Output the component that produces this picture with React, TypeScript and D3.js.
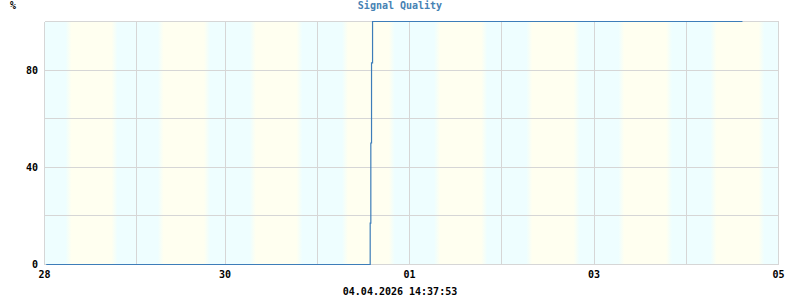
import React from "react";
import * as d3 from "d3";

// ---- data ----
const chartTitle = "Signal Quality";
const yUnit = "%";
const timestampLabel = "04.04.2026 14:37:53";

// local midnights (CET/CEST, DST change on 29.03) as UTC instants
const dayStarts = [
  "2026-03-27T23:00:00Z",
  "2026-03-28T23:00:00Z",
  "2026-03-29T22:00:00Z",
  "2026-03-30T22:00:00Z",
  "2026-03-31T22:00:00Z",
  "2026-04-01T22:00:00Z",
  "2026-04-02T22:00:00Z",
  "2026-04-03T22:00:00Z",
  "2026-04-04T22:00:00Z",
];
const dayLabels = ["28", "29", "30", "31", "01", "02", "03", "04", "05"];
const labeledDays = ["28", "30", "01", "03", "05"];

const sunrise = [
  "2026-03-28T05:15:00Z",
  "2026-03-29T05:14:00Z",
  "2026-03-30T05:12:00Z",
  "2026-03-31T05:12:00Z",
  "2026-04-01T05:10:00Z",
  "2026-04-02T05:09:00Z",
  "2026-04-03T05:07:00Z",
  "2026-04-04T05:06:00Z",
];
const sunset = [
  "2026-03-28T17:14:00Z",
  "2026-03-29T17:17:00Z",
  "2026-03-30T17:20:00Z",
  "2026-03-31T17:24:00Z",
  "2026-04-01T17:26:00Z",
  "2026-04-02T17:29:00Z",
  "2026-04-03T17:32:00Z",
  "2026-04-04T17:35:00Z",
];

const signalTimes = [
  "2026-03-27T23:27:00Z",
  "2026-03-31T11:45:00Z",
  "2026-03-31T11:55:00Z",
  "2026-03-31T12:06:00Z",
  "2026-03-31T12:22:00Z",
  "2026-04-04T12:37:00Z",
];
const signalValues = [0, 17, 50, 83, 100, 100];

const yGridValues = [0, 20, 40, 60, 80, 100];
const yLabelValues = [0, 40, 80];

// ---- layout ----
const W = 800;
const H = 300;
const left = 44.5;
const right = 778.5;
const top = 21.5;
const bottom = 264.5;

const FONT = "'DejaVu Sans Mono', 'Liberation Mono', monospace";
const NIGHT = "#eefeff";
const DAY = "#fffff0";
const GRID = "#d6d6d6";
const LINE = "#3d7db9";

export default function App() {
  const x = d3
    .scaleUtc()
    .domain([new Date(dayStarts[0]), new Date(dayStarts[dayStarts.length - 1])])
    .range([left, right]);
  const y = d3.scaleLinear().domain([0, 100]).range([bottom, top]);

  const span = right - left;
  const blur = 3;
  const stops: { off: number; color: string }[] = [{ off: 0, color: NIGHT }];
  sunrise.forEach((r, i) => {
    const xr = x(new Date(r));
    const xs = x(new Date(sunset[i]));
    stops.push({ off: (xr - blur - left) / span, color: NIGHT });
    stops.push({ off: (xr + blur - left) / span, color: DAY });
    stops.push({ off: (xs - blur - left) / span, color: DAY });
    stops.push({ off: (xs + blur - left) / span, color: NIGHT });
  });
  stops.push({ off: 1, color: NIGHT });

  const pts = signalTimes.map((t, i) => ({ t: new Date(t), v: signalValues[i] }));
  const line = d3
    .line<{ t: Date; v: number }>()
    .x((d) => x(d.t))
    .y((d) => y(d.v))
    .curve(d3.curveStepAfter);

  return (
    <svg
      width={W}
      height={H}
      style={{ position: "fixed", left: 0, top: 0, background: "#fff" }}
    >
      <defs>
        <linearGradient id="bands" gradientUnits="userSpaceOnUse" x1={left} x2={right} y1={0} y2={0}>
          {stops.map((s, i) => (
            <stop key={i} offset={Math.max(0, Math.min(1, s.off))} stopColor={s.color} />
          ))}
        </linearGradient>
      </defs>
      <rect x={left} y={top} width={span} height={bottom - top} fill="url(#bands)" />

      {yGridValues.map((v) => (
        <line
          key={"hy" + v}
          x1={left}
          x2={right}
          y1={Math.round(y(v) - 0.5) + 0.5}
          y2={Math.round(y(v) - 0.5) + 0.5}
          stroke={GRID}
          strokeWidth={1}
          shapeRendering="crispEdges"
        />
      ))}
      {dayStarts.map((d, i) => {
        const xx = Math.round(x(new Date(d)) - 0.5) + 0.5;
        return (
          <line
            key={"vx" + i}
            x1={xx}
            x2={xx}
            y1={top}
            y2={bottom}
            stroke={GRID}
            strokeWidth={1}
            shapeRendering="crispEdges"
          />
        );
      })}

      <path d={line(pts) || ""} fill="none" stroke={LINE} strokeWidth={1.2} />

      <g fontFamily={FONT} fontWeight="bold" fontSize={10} fill="#000">
        <text x={13} y={9} textAnchor="middle">{yUnit}</text>
        {yLabelValues.map((v) => (
          <text key={"yl" + v} x={38} y={y(v)} dy="0.35em" textAnchor="end">
            {v}
          </text>
        ))}
        {dayStarts.map((d, i) =>
          labeledDays.includes(dayLabels[i]) ? (
            <text key={"xl" + i} x={x(new Date(d))} y={278} textAnchor="middle">
              {dayLabels[i]}
            </text>
          ) : null
        )}
        <text x={400} y={295} textAnchor="middle">{timestampLabel}</text>
      </g>
      <text
        x={400}
        y={9}
        textAnchor="middle"
        fontFamily={FONT}
        fontWeight="bold"
        fontSize={10}
        fill="#4682b4"
      >
        {chartTitle}
      </text>
    </svg>
  );
}
